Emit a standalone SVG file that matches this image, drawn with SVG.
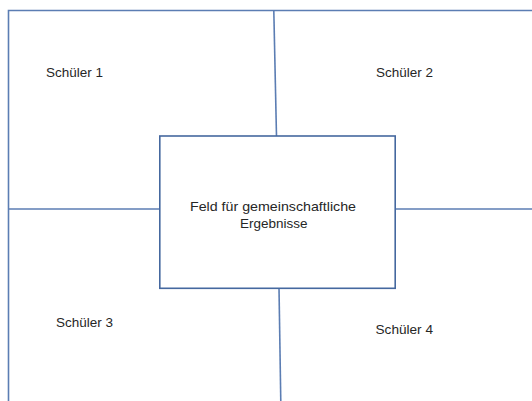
<svg xmlns="http://www.w3.org/2000/svg" width="532" height="401" viewBox="0 0 532 401">
  <style>
    .ln { stroke: #5b7db3; stroke-width: 1.6; fill: none; }
    .bx { stroke: #45689f; stroke-width: 1.6; fill: #ffffff; }
    .t { font-family: "Liberation Sans", Arial, sans-serif; font-size: 13.5px; fill: #262626; }
  </style>
  <rect width="532" height="401" fill="#ffffff"/>
  <g id="connectors">
    <path class="ln" d="M8.5 402 V10.5 H533"/>
    <path class="ln" d="M273.8 10.5 L276.5 136"/>
    <path class="ln" d="M8.5 209 H160"/>
    <path class="ln" d="M395 209 H533"/>
    <path class="ln" d="M279 288 L280.8 402"/>
  </g>
  <g id="center">
    <rect class="bx" x="159.8" y="136" width="235.4" height="152.3"/>
    <text class="t" x="190" y="210.5" textLength="166" lengthAdjust="spacingAndGlyphs">Feld für gemeinschaftliche</text>
    <text class="t" x="240" y="228.3" textLength="67.5" lengthAdjust="spacingAndGlyphs">Ergebnisse</text>
  </g>
  <g id="s1"><text class="t" x="46" y="76.7" textLength="57" lengthAdjust="spacingAndGlyphs">Schüler 1</text></g>
  <g id="s2"><text class="t" x="376" y="76.7" textLength="57" lengthAdjust="spacingAndGlyphs">Schüler 2</text></g>
  <g id="s3"><text class="t" x="56" y="326.7" textLength="57" lengthAdjust="spacingAndGlyphs">Schüler 3</text></g>
  <g id="s4"><text class="t" x="375.5" y="334" textLength="57.5" lengthAdjust="spacingAndGlyphs">Schüler 4</text></g>
</svg>
